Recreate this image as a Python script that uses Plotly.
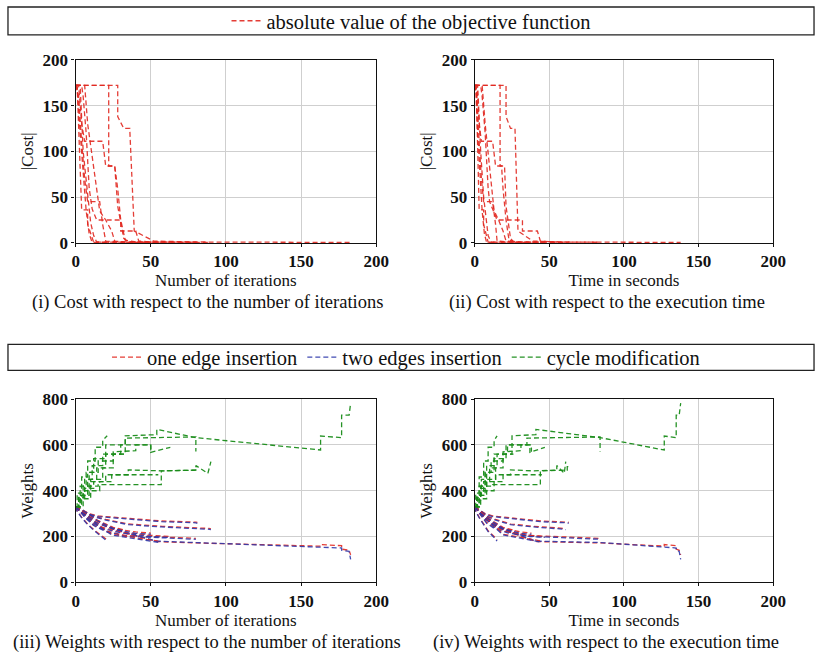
import plotly.graph_objects as go

# ---------------- data ----------------
# Cost trajectories of each run: iteration, time (s), |cost|
A_C_IT = [0, 28, 28, 32, 36, 39, 52, 80, 183]
A_C_TM = [0, 21, 21, 24, 27, 29, 39, 60, 138]
A_COST = [172, 172, 138, 125, 125, 13, 2, 1, 0.5]
B_C_IT = [0, 2, 4, 6, 18, 20, 26, 28, 30, 33, 40, 90]
B_C_TM = [0, 1.5, 3, 4.5, 12, 14, 18, 19, 21, 23, 28, 61]
B_COST = [172, 172, 130, 111, 111, 84, 84, 59, 25, 3, 1, 0.6]
C_C_IT = [0, 22, 22, 26, 28, 32, 35, 81]
C_C_TM = [0, 17, 17, 20, 21, 24, 26, 63]
C_COST = [172, 172, 84, 84, 40, 5, 1, 0.6]
D_C_IT = [0, 4, 5, 7, 9, 10, 11, 14, 30, 30, 40, 42, 50, 80]
D_C_TM = [0, 4, 5, 7, 9, 10, 12, 15, 32, 32, 42, 44, 53, 84]
D_COST = [172, 172, 160, 120, 60, 45, 37, 25, 25, 13, 13, 2, 1, 0.7]
E_C_IT = [0, 1, 4, 8, 8, 12, 63]
E_C_TM = [0, 1, 3, 6, 6, 9, 47]
E_COST = [172, 172, 36, 36, 20, 0.8, 0.5]
F_C_IT = [0, 6, 8, 12, 16, 20, 24, 26, 35, 55]
F_C_TM = [0, 5, 7, 10, 13, 16, 19, 21, 28, 45]
F_COST = [172, 172, 130, 80, 35, 25, 13, 2, 1, 0.7]
G_C_IT = [0, 3, 5, 8, 10, 12, 14, 50]
G_C_TM = [0, 2, 4, 6, 8, 9, 11, 38]
G_COST = [172, 172, 100, 50, 22, 8, 1, 0.5]
H_C_IT = [0, 2, 4, 6, 8, 16, 18, 20, 33]
H_C_TM = [0, 1.5, 3, 4.5, 6, 12, 14, 15, 26]
H_COST = [172, 160, 110, 70, 45, 45, 20, 2, 0.8]
I_C_IT = [0, 1, 3, 5, 7, 9, 11, 21]
I_C_TM = [0, 0.7, 2, 3.5, 5, 6.5, 8, 15]
I_COST = [172, 170, 120, 80, 35, 10, 0.5, 0.5]

# Weight trajectories of each run: iteration, time (s), one edge, two edges, cycle
A_W_IT = [0, 3, 3, 8, 8, 14, 14, 20, 20, 33, 33, 54, 54, 80, 163, 163, 177, 177, 182, 183]
A_W_TM = [0, 2, 2, 6, 6, 10, 10, 15, 15, 25, 25, 41, 41, 84, 127, 127, 135, 135, 137, 138]
A_ONE  = [330, 320, 320, 300, 300, 270, 270, 245, 245, 215, 215, 178, 178, 172, 158, 165, 160, 145, 140, 120]
A_TWO  = [330, 322, 322, 303, 303, 273, 273, 248, 248, 218, 218, 180, 180, 174, 156, 156, 150, 140, 135, 100]
A_CYC  = [330, 330, 380, 380, 440, 440, 500, 500, 560, 560, 640, 645, 668, 632, 578, 639, 632, 730, 730, 783]

B_W_IT = [0, 2, 2, 6, 6, 12, 12, 20, 20, 35, 35, 57, 57, 80, 80, 88, 88, 90]
B_W_TM = [0, 1.5, 1.5, 4, 4, 8, 8, 14, 14, 24, 24, 39, 39, 55, 55, 60, 60, 61]
B_ONE  = [330, 325, 325, 305, 305, 290, 290, 275, 275, 255, 255, 245, 245, 240, 240, 236, 236, 235]
B_TWO  = [330, 323, 323, 302, 302, 287, 287, 272, 272, 252, 252, 242, 242, 236, 236, 232, 232, 230]
B_CYC  = [330, 330, 370, 370, 410, 410, 440, 440, 470, 470, 491, 487, 487, 490, 510, 476, 476, 527]

C_W_IT = [0, 4, 4, 9, 9, 15, 15, 57, 57, 80, 80, 81]
C_W_TM = [0, 3, 3, 7, 7, 12, 12, 44, 44, 62, 62, 63]
C_ONE  = [330, 318, 318, 300, 300, 290, 290, 268, 268, 263, 263, 262]
C_TWO  = [330, 316, 316, 297, 297, 287, 287, 265, 265, 260, 260, 258]
C_CYC  = [330, 330, 380, 380, 420, 420, 427, 427, 487, 490, 505, 505]

D_W_IT = [0, 3, 3, 7, 7, 12, 12, 20, 20, 33, 33, 80, 80]
D_W_TM = [0, 3, 3, 7, 7, 13, 13, 21, 21, 35, 35, 84, 84]
D_ONE  = [330, 310, 310, 280, 280, 250, 250, 225, 225, 205, 205, 192, 192]
D_TWO  = [330, 308, 308, 278, 278, 248, 248, 222, 222, 202, 202, 188, 188]
D_CYC  = [330, 330, 420, 420, 480, 480, 540, 540, 600, 600, 630, 635, 572]

E_W_IT = [0, 2, 2, 6, 6, 11, 11, 18, 18, 30, 30, 50, 50, 63]
E_W_TM = [0, 1.5, 1.5, 4.5, 4.5, 8, 8, 13, 13, 22, 22, 37, 37, 47]
E_ONE  = [330, 318, 318, 290, 290, 262, 262, 240, 240, 220, 220, 205, 205, 200]
E_TWO  = [330, 316, 316, 287, 287, 258, 258, 236, 236, 216, 216, 200, 200, 196]
E_CYC  = [330, 330, 380, 380, 450, 450, 510, 510, 560, 560, 600, 600, 568, 590]

F_W_IT = [0, 5, 5, 10, 10, 16, 16, 24, 24, 55]
F_W_TM = [0, 4, 4, 8, 8, 13, 13, 19, 19, 45]
F_ONE  = [330, 305, 305, 280, 280, 245, 245, 210, 210, 180]
F_TWO  = [330, 303, 303, 277, 277, 242, 242, 207, 207, 175]
F_CYC  = [330, 330, 365, 365, 400, 400, 440, 440, 470, 470]

G_W_IT = [0, 2, 2, 5, 5, 9, 9, 15, 15, 25, 25, 40, 40, 50, 50]
G_W_TM = [0, 1.5, 1.5, 4, 4, 7, 7, 11, 11, 19, 19, 31, 31, 38, 38]
G_ONE  = [330, 320, 320, 300, 300, 280, 280, 260, 260, 235, 235, 220, 220, 215, 215]
G_TWO  = [330, 318, 318, 297, 297, 277, 277, 257, 257, 232, 232, 214, 214, 210, 210]
G_CYC  = [330, 330, 370, 370, 420, 420, 480, 480, 530, 530, 570, 575, 600, 600, 570]

H_W_IT = [0, 2, 2, 5, 5, 10, 10, 18, 18, 25, 25, 33]
H_W_TM = [0, 1.5, 1.5, 4, 4, 8, 8, 14, 14, 19, 19, 26]
H_ONE  = [330, 322, 322, 305, 305, 285, 285, 260, 260, 240, 240, 228]
H_TWO  = [330, 320, 320, 302, 302, 282, 282, 257, 257, 236, 236, 222]
H_CYC  = [330, 330, 360, 360, 400, 400, 450, 450, 500, 500, 560, 560]

I_W_IT = [0, 1, 1, 4, 4, 8, 8, 13, 13, 18, 18, 21]
I_W_TM = [0, 0.7, 0.7, 3, 3, 6, 6, 9, 9, 13, 13, 15]
I_ONE  = [330, 312, 312, 285, 285, 255, 255, 225, 225, 200, 200, 185]
I_TWO  = [330, 310, 310, 282, 282, 252, 252, 222, 222, 196, 196, 180]
I_CYC  = [330, 330, 390, 390, 460, 460, 530, 530, 590, 590, 620, 640]

COST_RUNS = [
    (A_C_IT, A_C_TM, A_COST), (B_C_IT, B_C_TM, B_COST), (C_C_IT, C_C_TM, C_COST),
    (D_C_IT, D_C_TM, D_COST), (E_C_IT, E_C_TM, E_COST), (F_C_IT, F_C_TM, F_COST),
    (G_C_IT, G_C_TM, G_COST), (H_C_IT, H_C_TM, H_COST), (I_C_IT, I_C_TM, I_COST),
]
WEIGHT_RUNS = [
    (A_W_IT, A_W_TM, A_ONE, A_TWO, A_CYC), (B_W_IT, B_W_TM, B_ONE, B_TWO, B_CYC),
    (C_W_IT, C_W_TM, C_ONE, C_TWO, C_CYC), (D_W_IT, D_W_TM, D_ONE, D_TWO, D_CYC),
    (E_W_IT, E_W_TM, E_ONE, E_TWO, E_CYC), (F_W_IT, F_W_TM, F_ONE, F_TWO, F_CYC),
    (G_W_IT, G_W_TM, G_ONE, G_TWO, G_CYC), (H_W_IT, H_W_TM, H_ONE, H_TWO, H_CYC),
    (I_W_IT, I_W_TM, I_ONE, I_TWO, I_CYC),
]

X_TICKS = [0, 50, 100, 150, 200]
COST_TICKS = [0, 50, 100, 150, 200]
WEIGHT_TICKS = [0, 200, 400, 600, 800]

COST_NAME = "absolute value of the objective function"
SERIES_NAMES = ["one edge insertion", "two edges insertion", "cycle modification"]
CAPTIONS = [
    "(i) Cost with respect to the number of iterations",
    "(ii) Cost with respect to the execution time",
    "(iii) Weights with respect to the number of iterations",
    "(iv) Weights with respect to the execution time",
]

# ---------------- styling ----------------
FONT = "Liberation Serif"
RED = "rgba(225,40,32,0.9)"
BLUE = "rgba(45,55,170,0.9)"
GREEN = "rgba(25,140,25,0.95)"
DASH = "5px,3px"
LW = 1.3

fig = go.Figure()

for k, (it, tm, cost) in enumerate(COST_RUNS):
    for xa, ya, xs in (("x", "y", it), ("x2", "y2", tm)):
        fig.add_trace(go.Scatter(
            x=xs, y=cost, mode="lines", xaxis=xa, yaxis=ya,
            line=dict(color=RED, width=LW, dash=DASH),
            name=COST_NAME, legend="legend", legendgroup="cost",
            showlegend=(k == 0 and xa == "x"), hoverinfo="skip"))

for k, (it, tm, one, two, cyc) in enumerate(WEIGHT_RUNS):
    for xa, ya, xs in (("x3", "y3", it), ("x4", "y4", tm)):
        for vals, col, nm in ((one, RED, SERIES_NAMES[0]),
                              (two, BLUE, SERIES_NAMES[1]),
                              (cyc, GREEN, SERIES_NAMES[2])):
            fig.add_trace(go.Scatter(
                x=xs, y=vals, mode="lines", xaxis=xa, yaxis=ya,
                line=dict(color=col, width=LW, dash=DASH),
                name=nm, legend="legend2", legendgroup=nm,
                showlegend=(k == 0 and xa == "x3"), hoverinfo="skip"))

# mapping from wanted on-screen pixel to figure coordinates (measured)
W, H = 817, 657
AX, SX = 3.0, 0.984
AY, SY = 9.0, 0.9756
def fx(px):
    return ((px - AX) / SX) / W
def fy(py):
    return 1 - ((py - AY) / SY) / H

xd_left = [fx(75), fx(377)]
xd_right = [fx(476), fx(776)]
yd_top = [fy(244), fy(60)]
yd_bot = [fy(585), fy(401)]

tickfont = dict(family=FONT, size=17, color="#111", weight="bold")
titlefont = dict(family=FONT, size=17, color="#111")

def xaxis(domain, anchor, title):
    return dict(domain=domain, anchor=anchor, range=[0, 200], tickvals=X_TICKS,
                showgrid=True, gridcolor="#cfcfcf", gridwidth=1,
                showline=True, linecolor="#111", linewidth=1.3, mirror=True,
                ticks="outside", ticklen=3, tickcolor="#111",
                zeroline=False, tickfont=tickfont,
                title=dict(text=title, font=titlefont, standoff=1))

def yaxis(domain, anchor, rng, tv, title):
    return dict(domain=domain, anchor=anchor, range=rng, tickvals=tv,
                showgrid=True, gridcolor="#cfcfcf", gridwidth=1,
                showline=True, linecolor="#111", linewidth=1.3, mirror=True,
                ticks="outside", ticklen=3, tickcolor="#111",
                zeroline=False, tickfont=tickfont,
                title=dict(text=title, font=titlefont, standoff=4))

LEG_FONT = dict(family=FONT, size=20.5, color="#111")
fig.update_layout(
    width=W, height=H, margin=dict(l=0, r=0, t=0, b=0),
    paper_bgcolor="white", plot_bgcolor="white",
    font=dict(family=FONT, color="#111"),
    xaxis=xaxis(xd_left, "y", "Number of iterations"),
    yaxis=yaxis(yd_top, "x", [0, 200], COST_TICKS, "|Cost|"),
    xaxis2=xaxis(xd_right, "y2", "Time in seconds"),
    yaxis2=yaxis(yd_top, "x2", [0, 200], COST_TICKS, "|Cost|"),
    xaxis3=xaxis(xd_left, "y3", "Number of iterations"),
    yaxis3=yaxis(yd_bot, "x3", [0, 800], WEIGHT_TICKS, "Weights"),
    xaxis4=xaxis(xd_right, "y4", "Time in seconds"),
    yaxis4=yaxis(yd_bot, "x4", [0, 800], WEIGHT_TICKS, "Weights"),
    legend=dict(orientation="h", x=fx(412), xanchor="center", y=fy(21), yanchor="middle",
                bgcolor="rgba(0,0,0,0)", font=LEG_FONT, itemwidth=30, tracegroupgap=0),
    legend2=dict(orientation="h", x=fx(407), xanchor="center", y=fy(359), yanchor="middle",
                 bgcolor="rgba(0,0,0,0)", font=LEG_FONT, itemwidth=30, tracegroupgap=0),
    showlegend=True,
)

# legend frames spanning the full width
fig.add_shape(type="rect", xref="paper", yref="paper", x0=fx(7), x1=fx(817),
              y0=fy(35), y1=fy(7), line=dict(color="#222", width=1.3), fillcolor="rgba(0,0,0,0)")
fig.add_shape(type="rect", xref="paper", yref="paper", x0=fx(7), x1=fx(817),
              y0=fy(372), y1=fy(346), line=dict(color="#222", width=1.3), fillcolor="rgba(0,0,0,0)")

cap_pos = [(207, 304), (609, 304), (207, 645), (608, 645)]
for txt, (cx, cy) in zip(CAPTIONS, cap_pos):
    fig.add_annotation(text=txt, xref="paper", yref="paper", x=fx(cx), y=fy(cy),
                       showarrow=False, xanchor="center", yanchor="middle",
                       font=dict(family=FONT, size=18.5, color="#111"))

fig.write_html("out.html")
